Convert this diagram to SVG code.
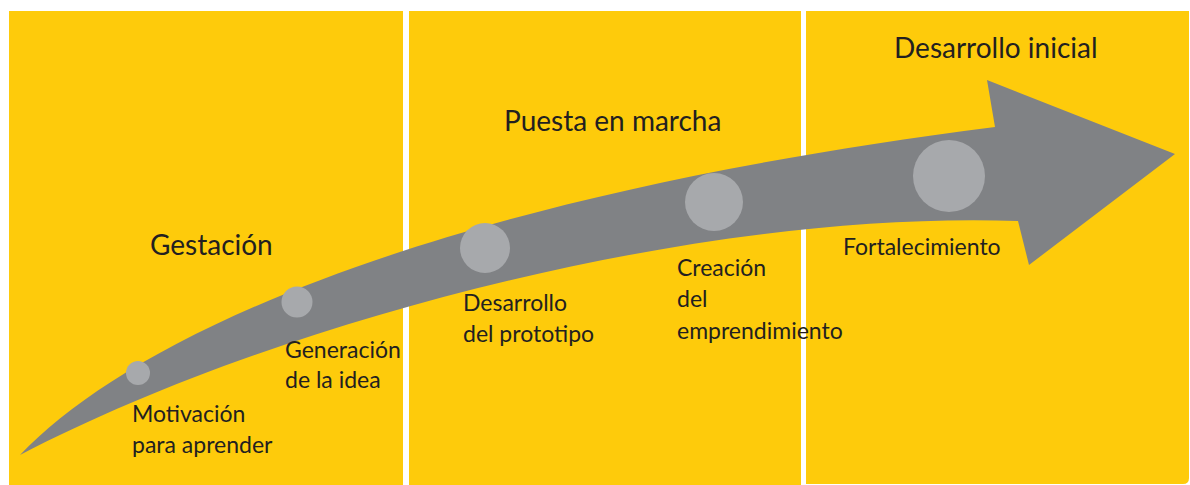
<svg xmlns="http://www.w3.org/2000/svg" width="1190" height="485" viewBox="0 0 1190 485">
  <style>
    .panel { fill: #FECB0B; }
    .arrow { fill: #808285; }
    .dot { fill: #A7A9AC; }
    .head { font-family: Lato, "Open Sans", sans-serif; font-size: 28px; fill: #231F20; }
    .lbl { font-family: Lato, "Open Sans", sans-serif; font-size: 23px; font-weight: 400; fill: #231F20; }
  </style>
  <rect width="1190" height="485" fill="#FFFFFF"/>
  <g id="panel-gestacion">
    <rect class="panel" x="9" y="11" width="394" height="480"/>
    <text class="head" x="150" y="255">Gestación</text>
  </g>
  <g id="panel-puesta">
    <rect class="panel" x="409" y="11" width="392" height="480"/>
    <text class="head" x="504" y="131">Puesta en marcha</text>
  </g>
  <g id="panel-desarrollo">
    <path class="panel" d="M806,11 H1189 V478 Q1189,484 1183,484 H806 Z"/>
    <text class="head" x="894" y="58">Desarrollo inicial</text>
  </g>
  <g id="connectors">
    <path id="arrow" class="arrow" d="M20,455 C130,340 420,200 995,127 L987,80 L1175,154 L1029,265 L1018,221 C700,210 280,320 20,455 Z"/>
  </g>
  <g id="node-motivacion">
    <circle class="dot" cx="138" cy="373" r="12"/>
    <text class="lbl" x="132" y="422">Motivación</text>
    <text class="lbl" x="132" y="453">para aprender</text>
  </g>
  <g id="node-generacion">
    <circle class="dot" cx="297" cy="302" r="15.5"/>
    <text class="lbl" x="285" y="358">Generación</text>
    <text class="lbl" x="285" y="388">de la idea</text>
  </g>
  <g id="node-prototipo">
    <circle class="dot" cx="485" cy="248" r="25"/>
    <text class="lbl" x="463" y="311">Desarrollo</text>
    <text class="lbl" x="463" y="342">del prototipo</text>
  </g>
  <g id="node-creacion">
    <circle class="dot" cx="714" cy="202" r="29"/>
    <text class="lbl" x="677" y="276">Creación</text>
    <text class="lbl" x="677" y="307">del</text>
    <text class="lbl" x="677" y="339">emprendimiento</text>
  </g>
  <g id="node-fortalecimiento">
    <circle class="dot" cx="949" cy="176" r="36"/>
    <text class="lbl" x="843" y="255">Fortalecimiento</text>
  </g>
</svg>
